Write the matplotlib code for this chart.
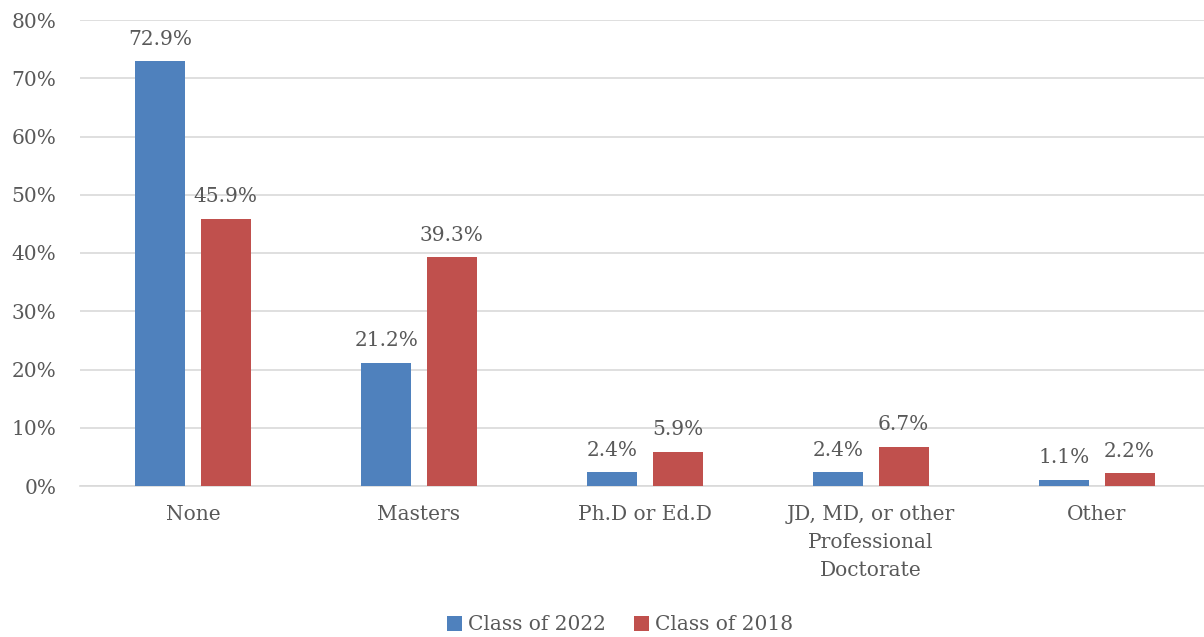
import matplotlib
matplotlib.use("Agg")
import matplotlib.pyplot as plt
import numpy as np
from matplotlib.ticker import FuncFormatter

categories = ["None", "Masters", "Ph.D or Ed.D", "JD, MD, or other\nProfessional\nDoctorate", "Other"]
class_2022 = [72.9, 21.2, 2.4, 2.4, 1.1]
class_2018 = [45.9, 39.3, 5.9, 6.7, 2.2]
series_names = ["Class of 2022", "Class of 2018"]

BLUE = "#4F81BD"
RED = "#C0504D"
TXT = "#595959"
FONT = "DejaVu Serif"
FS = 14.5

fig = plt.figure(figsize=(12.04, 6.37), dpi=100)
W, H = 1204, 637
ax = fig.add_axes([80 / W, 1 - 486 / H, (1204 - 80) / W, (486 - 20) / H])

x = np.arange(len(categories))
bw = 0.221
off = 0.144
b1 = ax.bar(x - off, class_2022, bw, color=BLUE, label=series_names[0], zorder=3)
b2 = ax.bar(x + off, class_2018, bw, color=RED, label=series_names[1], zorder=3)

for bars, vals in ((b1, class_2022), (b2, class_2018)):
    for r, v in zip(bars, vals):
        ax.annotate(f"{v:.1f}%", (r.get_x() + r.get_width() / 2, v), xytext=(0, 9),
                    textcoords="offset points", ha="center", va="bottom",
                    fontsize=FS, color=TXT, family=FONT)

ax.set_xlim(-0.5, (1204 - 80) / 226 - 0.5)
ax.set_ylim(0, 80)
ax.set_yticks(np.arange(0, 81, 10))
ax.yaxis.set_major_formatter(FuncFormatter(lambda v, p: f"{int(v)}%"))
ax.set_xticks(x)
ax.set_xticklabels(categories, linespacing=1.6)
for lab in ax.get_xticklabels() + ax.get_yticklabels():
    lab.set_fontsize(FS)
    lab.set_color(TXT)
    lab.set_family(FONT)
ax.tick_params(axis="both", length=0)
ax.tick_params(axis="x", pad=14)
ax.tick_params(axis="y", pad=17)
ax.grid(axis="y", color="#D9D9D9", linewidth=1.2, zorder=0)
for s in ["top", "right", "left"]:
    ax.spines[s].set_visible(False)
ax.spines["bottom"].set_color("#D9D9D9")
ax.spines["bottom"].set_linewidth(1.2)

leg = fig.legend(handles=[b1, b2], labels=series_names, loc="center", bbox_to_anchor=(620 / W, 1 - 625 / H),
                 ncol=2, frameon=False, handlelength=0.75, handleheight=0.75, handletextpad=0.3,
                 columnspacing=1.4, prop={"family": FONT, "size": FS})
for t in leg.get_texts():
    t.set_color(TXT)

fig.savefig("out.png", dpi=100)
